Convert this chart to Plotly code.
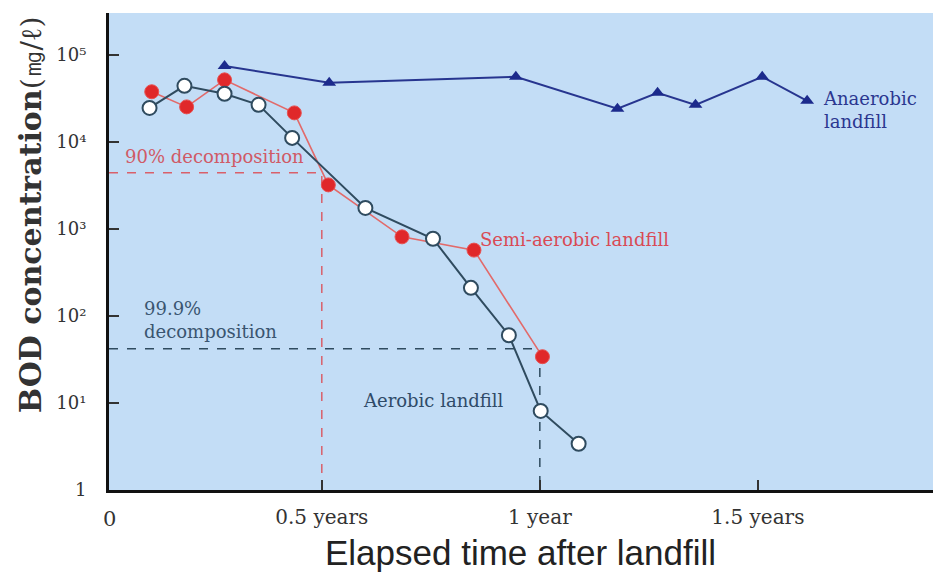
import plotly.graph_objects as go

# ---- data (years, mg/L) ----
aer_t = [0.105, 0.185, 0.277, 0.355, 0.432, 0.600, 0.755, 0.842, 0.929, 1.002, 1.089]
aer_v = [24500, 44000, 35700, 26600, 11100, 1740, 770, 210, 60, 8.1, 3.4]

semi_t = [0.110, 0.190, 0.277, 0.437, 0.515, 0.684, 0.849, 1.006]
semi_v = [37600, 25200, 51500, 21500, 3200, 810, 570, 34]

ana_t = [0.277, 0.517, 0.945, 1.178, 1.270, 1.357, 1.510, 1.613]
ana_v = [74500, 47700, 55900, 24000, 36600, 26600, 55900, 29600]

dec90_t, dec90_v = 0.5, 4400
dec999_t, dec999_v = 1.0, 42

x_tickvals = [0.5, 1.0, 1.5]
x_ticktext = ["0.5 years", "1 year", "1.5 years"]
y_tickvals = [1, 10, 100, 1000, 10000, 100000]
y_ticktext = ["1", "10¹", "10²", "10³", "10⁴", "10⁵"]

X0 = 0.012
X1 = 1.92
YMIN = 1
YMAX_LOG = 5.48

RED = "#e0282a"
SALMON = "#e26a6a"
TEAL = "#2f4b5f"
NAVY = "#27358f"
SERIF = "DejaVu Serif, Liberation Serif, serif"

fig = go.Figure()

# reference dashed lines
fig.add_trace(go.Scatter(x=[X0, dec90_t, dec90_t], y=[dec90_v, dec90_v, YMIN],
                         mode="lines", line=dict(color="#d9606a", width=1.5, dash="dash"),
                         hoverinfo="skip", showlegend=False))
fig.add_trace(go.Scatter(x=[X0, dec999_t, dec999_t], y=[dec999_v, dec999_v, YMIN],
                         mode="lines", line=dict(color="#2f4b5f", width=1.5, dash="dash"),
                         hoverinfo="skip", showlegend=False))

fig.add_trace(go.Scatter(x=ana_t, y=ana_v, mode="lines+markers", name="Anaerobic landfill",
                         line=dict(color=NAVY, width=2),
                         marker=dict(symbol="triangle-up", size=12, color="#1c2a8c"),
                         showlegend=False))
fig.add_trace(go.Scatter(x=semi_t, y=semi_v, mode="lines+markers", name="Semi-aerobic landfill",
                         line=dict(color=SALMON, width=1.6),
                         marker=dict(size=14, color=RED, line=dict(color="#e85050", width=1)),
                         showlegend=False))
fig.add_trace(go.Scatter(x=aer_t, y=aer_v, mode="lines+markers", name="Aerobic landfill",
                         line=dict(color=TEAL, width=2),
                         marker=dict(size=14, color="white", line=dict(color=TEAL, width=2)),
                         showlegend=False))

ann = [
    dict(x=0.045, y=3.83, text="90% decomposition", font=dict(color="#d05a66", size=18)),
    dict(x=0.087, y=1.95, text="99.9%<br>decomposition", font=dict(color="#3a5570", size=18)),
    dict(x=0.858, y=2.88, text="Semi-aerobic landfill", font=dict(color="#d94a55", size=18)),
    dict(x=0.59, y=1.03, text="Aerobic landfill", font=dict(color="#2f4b68", size=18)),
    dict(x=1.645, y=4.37, text="Anaerobic<br>landfill", font=dict(color="#2b3790", size=18)),
]
annotations = []
for a in ann:
    annotations.append(dict(x=a["x"], y=a["y"], xref="x", yref="y", text=a["text"],
                            showarrow=False, xanchor="left", yanchor="middle", align="left",
                            font=dict(family=SERIF, **a["font"])))
annotations.append(dict(x=0.0, y=0, xref="paper", yref="paper", text="0",
                        showarrow=False, xanchor="center", yanchor="top", yshift=-15,
                        font=dict(family=SERIF, size=21, color="#333")))
annotations.append(dict(x=-0.095, y=0.578, xref="paper", yref="paper",
                        text="<b>BOD concentration</b><span style='font-size:28px'>(㎎/ℓ)</span>",
                        textangle=-90, showarrow=False,
                        xanchor="center", yanchor="middle",
                        font=dict(family=SERIF, size=30, color="#333")))
annotations.append(dict(x=0.494, y=-0.132, xref="paper", yref="paper",
                        text="Elapsed time after landfill", showarrow=False,
                        xanchor="center", yanchor="middle",
                        font=dict(family="Liberation Sans Narrow, Liberation Sans, sans-serif",
                                  size=35, color="#222")))

# the page adds an 8px body margin, so the figure is sized to fit the 941x572 window
fig.update_layout(
    width=933, height=564,
    margin=dict(l=101, r=0, t=5, b=82),
    paper_bgcolor="white", plot_bgcolor="#c3ddf6",
    annotations=annotations,
    xaxis=dict(range=[X0, X1], tickvals=x_tickvals, ticktext=x_ticktext, automargin=False,
               ticks="inside", ticklen=10, tickwidth=1.5, tickcolor="#333",
               showgrid=False, zeroline=False, showline=True, linecolor="#111", linewidth=3,
               tickfont=dict(family=SERIF, size=20, color="#333"), ticklabelstandoff=7),
    yaxis=dict(type="log", range=[0, YMAX_LOG], tickvals=y_tickvals, ticktext=y_ticktext,
               automargin=False,
               ticks="inside", ticklen=10, tickwidth=1.5, tickcolor="#333",
               showgrid=False, zeroline=False, showline=True, linecolor="#111", linewidth=3,
               tickfont=dict(family=SERIF, size=18, color="#333"), ticklabelstandoff=16),
)

fig.write_html("out.html")
